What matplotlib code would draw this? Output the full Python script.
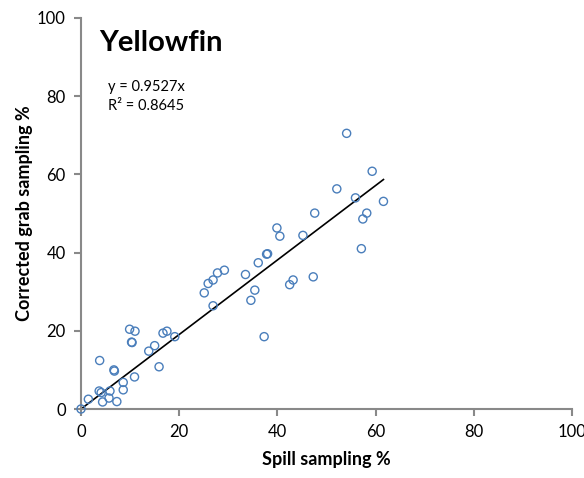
import matplotlib
matplotlib.use("Agg")
import matplotlib.pyplot as plt
import numpy as np

spill = [0.0, 1.5, 3.8, 3.7, 4.1, 4.4, 5.9, 5.7, 6.7, 6.8, 7.3, 8.6, 8.6,
         9.9, 11.0, 10.3, 10.4, 10.9, 13.8, 15.0, 15.9, 16.7, 17.5, 19.1,
         25.1, 25.9, 26.9, 27.8, 29.2, 26.9, 33.5, 36.1, 37.8, 38.0, 35.4,
         34.6, 37.3, 40.5, 42.5, 43.2, 47.3, 39.9, 45.2, 47.6, 52.1, 54.1,
         55.9, 59.3, 61.6, 58.2, 57.4, 57.1]
grab = [0.0, 2.5, 12.4, 4.6, 4.2, 1.8, 4.6, 2.8, 10.0, 9.7, 1.9, 6.8, 4.9,
        20.4, 19.9, 17.1, 17.0, 8.2, 14.8, 16.2, 10.8, 19.4, 19.9, 18.5,
        29.7, 32.1, 33.0, 34.8, 35.5, 26.4, 34.4, 37.4, 39.6, 39.7, 30.4,
        27.8, 18.5, 44.2, 31.8, 33.0, 33.8, 46.3, 44.4, 50.1, 56.3, 70.5,
        54.0, 60.8, 53.1, 50.1, 48.6, 41.0]
slope = 0.9527
r2 = 0.8645
ticks = [0, 20, 40, 60, 80, 100]

font = "Lato"
plt.rcParams['font.family'] = [font, 'DejaVu Sans']

fig = plt.figure(figsize=(5.84, 4.78), dpi=100)
ax = fig.add_axes([81/584, 69/478, 491/584, 391/478])

ax.scatter(spill, grab, s=34, facecolors='none', edgecolors='#4a7ebb',
           linewidths=1.0, zorder=3, clip_on=False)
xl = np.array([0, max(spill)])
ax.plot(xl, slope * xl, color='black', lw=1.2, zorder=2)

ax.set_xlim(0, 100)
ax.set_ylim(0, 100)
ax.set_xticks(ticks)
ax.set_yticks(ticks)
for s in ['top', 'right']:
    ax.spines[s].set_visible(False)
for s in ['left', 'bottom']:
    ax.spines[s].set_color('#898989')
    ax.spines[s].set_linewidth(1.5)
ax.tick_params(direction='out', length=5, width=1.5, color='#898989',
               labelsize=12, pad=6)

ax.set_xlabel('Spill sampling %', fontsize=13, fontweight='bold', labelpad=8)
ax.set_ylabel('Corrected grab sampling %', fontsize=13, fontweight='bold', labelpad=3)

ax.text(3.7, 91.6, 'Yellowfin', fontsize=21, fontweight='bold', va='baseline', ha='left')
ax.text(5.4, 81.3, f'y = {slope}x', fontsize=10.5, va='baseline', ha='left')
ax.text(5.4, 76.5, f'R² = {r2}', fontsize=10.5, va='baseline', ha='left')

fig.savefig('out.png', dpi=100)
